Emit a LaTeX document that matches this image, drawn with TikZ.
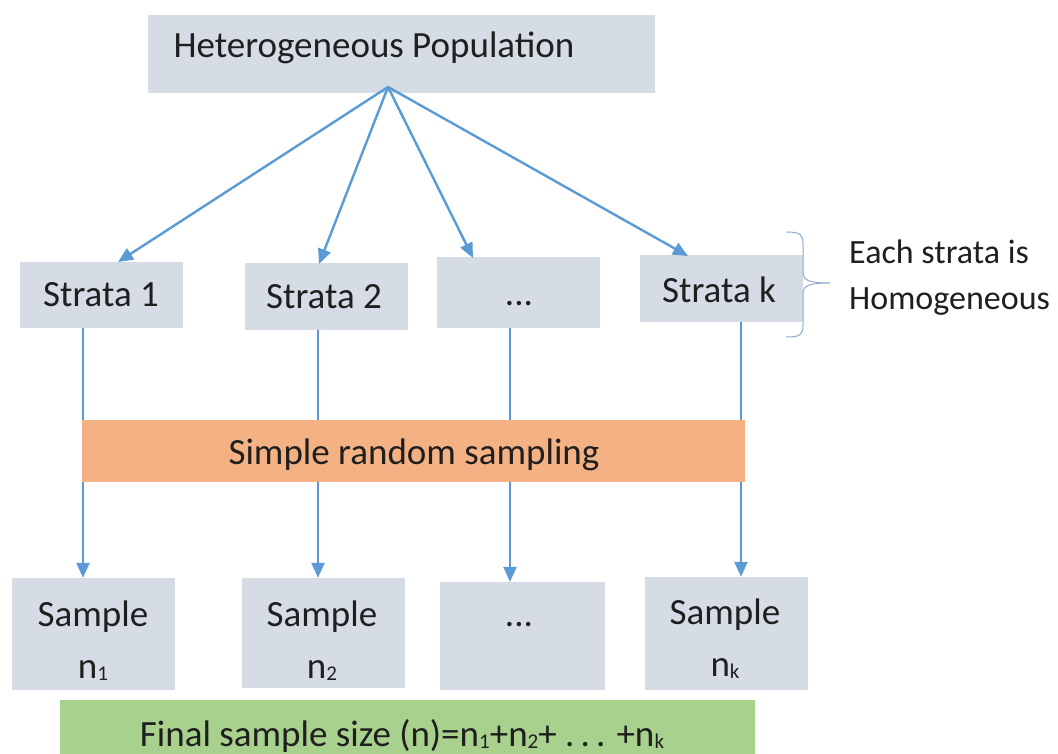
\documentclass[tikz,border=0pt]{standalone}
\usepackage{fontspec}
\setmainfont{Carlito}
\usetikzlibrary{arrows.meta}
\definecolor{boxgray}{HTML}{D6DCE5}
\definecolor{linkblue}{HTML}{5B9BD5}
\definecolor{bandorange}{HTML}{F4B183}
\definecolor{bandgreen}{HTML}{A9D18E}
\definecolor{bracegray}{HTML}{8EA9C8}
\tikzset{
  box/.style={fill=boxgray, draw=none, inner sep=0pt},
  link/.style={draw=linkblue, line width=2.4pt, -{Triangle[width=13pt,length=15pt]}},
  label/.style={font=\fontsize{37}{44}\selectfont, text=black!88, inner sep=0pt},
}
\newcommand{\subidx}[1]{\raisebox{-0.12ex}{\fontsize{21}{24}\selectfont #1}}
\begin{document}
\begin{tikzpicture}[x=1pt,y=-1pt]
\useasboundingbox (0,0) rectangle (1058,754);

% population box and its text
\node[box, minimum width=507pt, minimum height=78pt] (pop) at (401.5,54) {};
\node[label] (popt) at (374,48) {Heterogeneous Population};
\coordinate (hub) at (388,87);

% strata row
\node[box, minimum width=163pt, minimum height=66pt] (s1) at (101.5,295) {};
\node[label] (s1t) at (101,295) {Strata 1};
\node[box, minimum width=163pt, minimum height=67pt] (s2) at (326.5,296.5) {};
\node[label] (s2t) at (324,297) {Strata 2};
\node[box, minimum width=163pt, minimum height=71pt] (s3) at (518.5,292.5) {};
\node[label] (s3t) at (519,304) {...};
\node[box, minimum width=163pt, minimum height=67pt] (sk) at (721.5,288.5) {};
\node[label] (skt) at (719,290) {Strata k};

% arrow tips on the strata
\coordinate (t1) at (118,262);
\coordinate (t2) at (319,264);
\coordinate (t3) at (473,258);
\coordinate (tk) at (688,256);
\draw[link] (hub) -- (t1);
\draw[link] (hub) -- (t2);
\draw[link] (hub) -- (t3);
\draw[link] (hub) -- (tk);

% brace and note
\coordinate (bt) at (786,232);
\coordinate (bb) at (786,337);
\coordinate (btip) at (830,283);
\draw[bracegray, line width=1pt]
  (bt) .. controls (800,232) and (803,234) .. (803,244)
  -- (803,272) .. controls (803,280) and (808,283) .. (btip)
  (btip) .. controls (808,283) and (803,286) .. (803,294)
  -- (803,325) .. controls (803,335) and (800,337) .. (bb);
\node[font=\fontsize{34}{46}\selectfont, text=black!88, inner sep=0pt, align=left, anchor=west] (note) at (849,278) {Each strata is\\Homogeneous};

% sample row
\node[box, minimum width=163pt, minimum height=112pt] (n1) at (93.5,634) {};
\node[label, align=center] (n1t) at (93,641) {Sample\\[8pt]n\subidx{1}};
\node[box, minimum width=163pt, minimum height=110pt] (n2) at (323.5,633) {};
\node[label, align=center] (n2t) at (322,641) {Sample\\[8pt]n\subidx{2}};
\node[box, minimum width=165pt, minimum height=108pt] (n3) at (522.5,636) {};
\node[label] (n3t) at (519,625) {...};
\node[box, minimum width=163pt, minimum height=113pt] (nk) at (726.5,633.5) {};
\node[label, align=center] (nkt) at (725,639) {Sample\\[8pt]n\subidx{k}};

% vertical links from strata to samples
\draw[link] (s1.south -| 83,0) -- (n1.north -| 83,0);
\draw[link] (s2.south -| 318,0) -- (n2.north -| 318,0);
\draw[link] (s3.south -| 510,0) -- (n3.north -| 510,0);
\draw[link] (sk.south -| 741,0) -- (nk.north -| 741,0);

% sampling band over the links
\node[fill=bandorange, minimum width=663pt, minimum height=62pt, inner sep=0pt] (srs) at (413.5,451) {};
\node[label] (srst) at (414,455) {Simple random sampling};

% final size band
\node[fill=bandgreen, minimum width=695pt, minimum height=60pt, inner sep=0pt] (fin) at (407.5,730) {};
\node[label] (fint) at (402,736) {Final sample size (n)=n\subidx{1}+n\subidx{2}+ .\,.\,. +n\subidx{k}};
\end{tikzpicture}
\end{document}
